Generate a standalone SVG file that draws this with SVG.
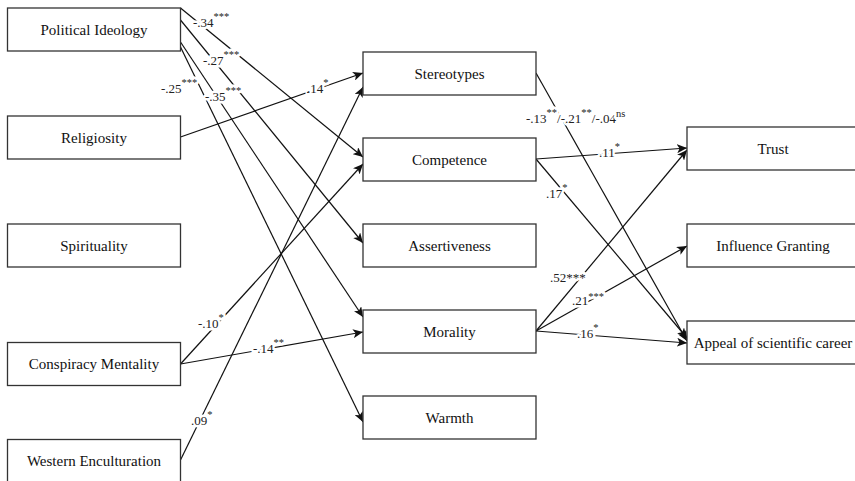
<svg xmlns="http://www.w3.org/2000/svg" width="855" height="481" viewBox="0 0 855 481">
<style>
.box rect{fill:#fff;stroke:#333;stroke-width:1.3}
.box text{font-size:15px;text-anchor:middle;fill:#111}
.edge{stroke:#111;stroke-width:1.2;fill:none;marker-end:url(#ah)}
.coef{font-size:13px;fill:#222;stroke:#fff;stroke-width:5;paint-order:stroke;stroke-linejoin:round}
.sup{font-size:10.5px}
</style>
<defs>
<marker id="ah" markerUnits="userSpaceOnUse" markerWidth="11" markerHeight="9" refX="10" refY="4.5" orient="auto">
<path d="M0,0 L10,4.5 L0,9 L2.5,4.5 z" fill="#111"/>
</marker>
</defs>
<rect width="855" height="481" fill="#fff"/>
<g id="connectors">
<line class="edge" x1="180.5" y1="8" x2="363" y2="157"/>
<line class="edge" x1="180.5" y1="20" x2="363" y2="243"/>
<line class="edge" x1="180.5" y1="42" x2="363" y2="317"/>
<line class="edge" x1="180.5" y1="47" x2="363" y2="422"/>
<line class="edge" x1="180.5" y1="137" x2="363" y2="73"/>
<line class="edge" x1="180.5" y1="460" x2="363" y2="87"/>
<line class="edge" x1="180.5" y1="364" x2="363" y2="164"/>
<line class="edge" x1="180.5" y1="364" x2="363" y2="332"/>
<line class="edge" x1="536" y1="73" x2="687" y2="341"/>
<line class="edge" x1="536" y1="159" x2="687" y2="148"/>
<line class="edge" x1="536" y1="159" x2="687" y2="338"/>
<line class="edge" x1="536" y1="331" x2="687" y2="150"/>
<line class="edge" x1="536" y1="331" x2="687" y2="246"/>
<line class="edge" x1="536" y1="331" x2="687" y2="343"/>
</g>
<g id="coefficients" font-family="'Liberation Serif', 'Times New Roman', Times, serif">
<text class="coef" x="193" y="27">-.34<tspan class="sup" dy="-7">***</tspan></text>
<text class="coef" x="203" y="65">-.27<tspan class="sup" dy="-7">***</tspan></text>
<text class="coef" x="161" y="93">-.25<tspan class="sup" dy="-7">***</tspan></text>
<text class="coef" x="205" y="101">-.35<tspan class="sup" dy="-7">***</tspan></text>
<text class="coef" x="307" y="93">.14<tspan class="sup" dy="-7">*</tspan></text>
<text class="coef" x="526" y="123">-.13<tspan class="sup" dy="-7">**</tspan><tspan dy="7">/-.21</tspan><tspan class="sup" dy="-7">**</tspan><tspan dy="7">/-.04</tspan><tspan class="sup" dy="-6">ns</tspan></text>
<text class="coef" x="599" y="157">.11<tspan class="sup" dy="-7">*</tspan></text>
<text class="coef" x="546" y="198">.17<tspan class="sup" dy="-7">*</tspan></text>
<text class="coef" x="550" y="282">.52***</text>
<text class="coef" x="572" y="305">.21<tspan class="sup" dy="-5">***</tspan></text>
<text class="coef" x="577" y="338">.16<tspan class="sup" dy="-7">*</tspan></text>
<text class="coef" x="198" y="328">-.10<tspan class="sup" dy="-7">*</tspan></text>
<text class="coef" x="253" y="353">-.14<tspan class="sup" dy="-7">**</tspan></text>
<text class="coef" x="191" y="425">.09<tspan class="sup" dy="-7">*</tspan></text>
</g>
<g id="nodes" font-family="'Liberation Serif', 'Times New Roman', Times, serif">
<g id="political-ideology" class="box"><rect x="7.5" y="8" width="173" height="43"/><text x="94" y="34.5">Political Ideology</text></g>
<g id="religiosity" class="box"><rect x="7.5" y="116" width="173" height="43"/><text x="94" y="142.5">Religiosity</text></g>
<g id="spirituality" class="box"><rect x="7.5" y="224" width="173" height="43"/><text x="94" y="250.5">Spirituality</text></g>
<g id="conspiracy-mentality" class="box"><rect x="7.5" y="342.5" width="173" height="43"/><text x="94" y="369">Conspiracy Mentality</text></g>
<g id="western-enculturation" class="box"><rect x="7.5" y="439.5" width="173" height="43"/><text x="94" y="466">Western Enculturation</text></g>
<g id="stereotypes" class="box"><rect x="363" y="52" width="173" height="43"/><text x="449.5" y="78.5">Stereotypes</text></g>
<g id="competence" class="box"><rect x="363" y="138" width="173" height="43"/><text x="449.5" y="164.5">Competence</text></g>
<g id="assertiveness" class="box"><rect x="363" y="224" width="173" height="43"/><text x="449.5" y="250.5">Assertiveness</text></g>
<g id="morality" class="box"><rect x="363" y="310" width="173" height="43"/><text x="449.5" y="336.5">Morality</text></g>
<g id="warmth" class="box"><rect x="363" y="396" width="173" height="43"/><text x="449.5" y="422.5">Warmth</text></g>
<g id="trust" class="box"><rect x="687" y="127" width="173" height="43"/><text x="773" y="153.5">Trust</text></g>
<g id="influence-granting" class="box"><rect x="687" y="224" width="173" height="43"/><text x="773" y="250.5">Influence Granting</text></g>
<g id="appeal" class="box"><rect x="687" y="321" width="173" height="43"/><text x="773" y="347.5">Appeal of scientific career</text></g>
</g>
</svg>
